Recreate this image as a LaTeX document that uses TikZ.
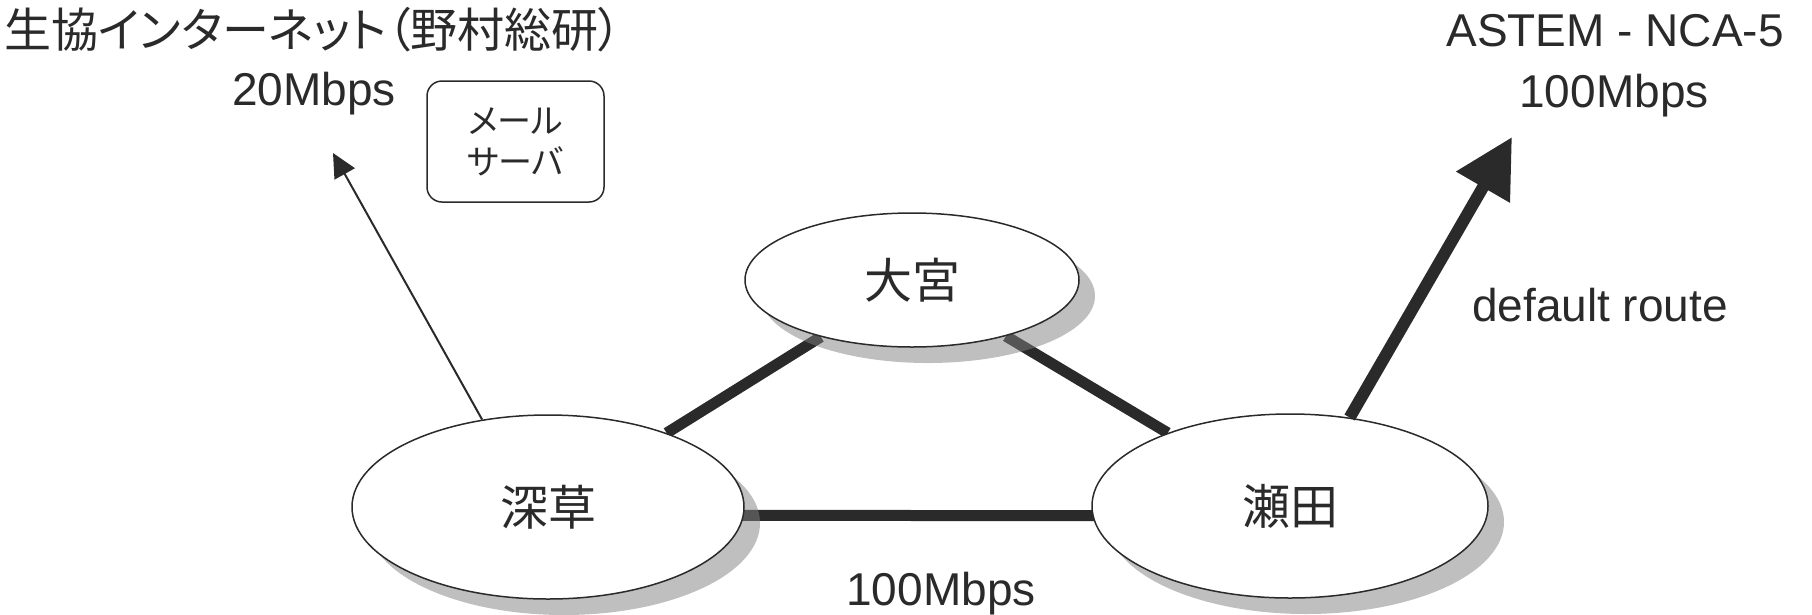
\documentclass[tikz,border=0pt]{standalone}
\usepackage{fontspec}
\setmainfont{Liberation Sans}
\newfontfamily\jp[RawFeature=+palt]{Noto Sans CJK JP}
\usetikzlibrary{shapes.geometric,shadows,arrows.meta,backgrounds}
\definecolor{ink}{RGB}{42,42,42}

\begin{document}
\begin{tikzpicture}[x=1pt,y=-1pt,
  site/.style={ellipse, draw=ink, line width=1.5pt, fill=white, inner sep=0pt,
    drop shadow={shadow xshift=16pt, shadow yshift=-16pt, opacity=0.5, fill=black!50},
    font=\jp\fontsize{48}{56}\selectfont, text=ink},
  link/.style={draw=ink, line width=11pt},
  txt/.style={font=\fontsize{46}{55}\selectfont, text=ink, inner sep=0pt},
  jptxt/.style={font=\jp\fontsize{47}{56}\selectfont, text=ink, inner sep=0pt},
  serverbox/.style={draw=ink, line width=1.5pt, rounded corners=15pt, align=center,
    font=\jp\fontsize{34}{41}\selectfont, text=ink, inner sep=0pt},
  uplink/.style={draw=ink, line width=2pt, -{Triangle[length=24pt,width=23pt]}},
  defaultlink/.style={draw=ink, line width=12pt, -{Triangle[length=58pt,width=59pt]}}
]
\useasboundingbox (0,0) rectangle (1812,614);

% campuses
\node[site, minimum width=392pt, minimum height=184pt] (fuka) at (548,507) {深草};
\node[site, minimum width=396pt, minimum height=184pt] (seta) at (1290,506) {瀬田};
\node[site, minimum width=334pt, minimum height=134pt] (omiya) at (912,280) {大宮};

% backbone links, kept under the campus ellipses and their shadows
\begin{scope}[on background layer]
  \fill[white] (0,0) rectangle (1812,614);
  \draw[link] (fuka) -- (omiya);
  \draw[link] (omiya) -- (seta);
  \draw[link] ([yshift=-8pt]fuka.center) -- ([yshift=-10pt]seta.center);
\end{scope}

% upstream providers
\node[jptxt, anchor=base] (isp) at (313,47) {生協インターネット（野村総研）};
\node[txt, anchor=base] (isprate) at (314,105) {20Mbps};
\node[txt, anchor=base] (astem) at (1615,46) {ASTEM - NCA-5};
\node[txt, anchor=base] (astemrate) at (1614,107) {100Mbps};
\node[txt, anchor=base] (route) at (1600,321) {default route};
\node[txt, anchor=base] (backbone) at (941,605) {100Mbps};

\node[serverbox, minimum width=177pt, minimum height=121pt] (mail) at (515.5,141.5) {メール\\サーバ};

\coordinate (ispend) at (333,153);
\coordinate (astemend) at (1512,137);
\draw[uplink] (fuka.127) -- (ispend);
\draw[defaultlink] (seta.56) -- (astemend);
\end{tikzpicture}
\end{document}
